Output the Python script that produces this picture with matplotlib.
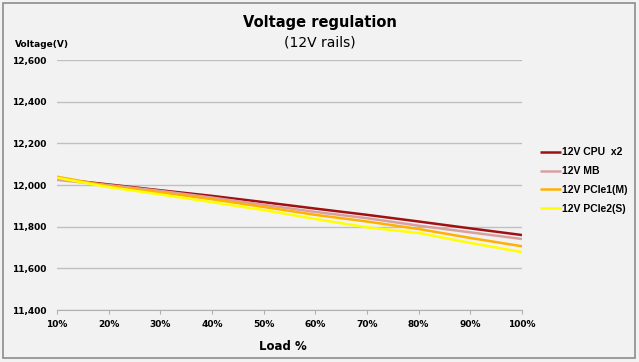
import matplotlib.pyplot as plt
from matplotlib.patches import Rectangle

# data
loads = ['10%', '20%', '30%', '40%', '50%', '60%', '70%', '80%', '90%', '100%']
cpu = [12030, 12003, 11975, 11948, 11918, 11887, 11857, 11825, 11792, 11760]
mb = [12025, 12000, 11972, 11940, 11905, 11871, 11841, 11805, 11773, 11741]
pcie1 = [12040, 11995, 11965, 11932, 11895, 11857, 11825, 11789, 11746, 11706]
pcie2 = [12035, 11990, 11955, 11918, 11880, 11837, 11797, 11770, 11722, 11678]
series_names = ['12V CPU  x2', '12V MB', '12V PCIe1(M)', '12V PCIe2(S)']
colors = ['#a01010', '#d9a0a0', '#ffb000', '#ffff00']
y_ticks = [11400, 11600, 11800, 12000, 12200, 12400, 12600]

bg = '#f2f2f2'
fig = plt.figure(figsize=(6.39, 3.62), dpi=100, facecolor=bg)
fig.patches.append(Rectangle((0.004, 0.012), 0.99, 0.98, transform=fig.transFigure,
                             fill=False, edgecolor='#8c8c8c', linewidth=1.2))

ax = fig.add_axes([0.0892, 0.1436, 0.7277, 0.6904])
ax.set_facecolor(bg)

x = list(range(len(loads)))
for vals, name, c in zip([cpu, mb, pcie1, pcie2], series_names, colors):
    ax.plot(x, vals, color=c, lw=1.8, label=name, solid_capstyle='butt')

ax.set_xlim(0, len(loads) - 1)
ax.set_ylim(11400, 12600)
ax.set_xticks(x)
ax.set_xticklabels(loads)
ax.set_yticks(y_ticks)
ax.set_yticklabels([f'{v:,}' for v in y_ticks])
ax.grid(axis='y', color='#c0c0c0', lw=1)
ax.set_axisbelow(True)
for s in ['top', 'right', 'left']:
    ax.spines[s].set_visible(False)
ax.spines['bottom'].set_color('#b0b0b0')
ax.tick_params(axis='y', length=0, pad=7.5, labelsize=6.5)
ax.tick_params(axis='x', length=3, color='#b0b0b0', pad=4, labelsize=6.5)
for lab in ax.get_xticklabels() + ax.get_yticklabels():
    lab.set_fontweight('bold')

fig.text(0.5, 0.937, 'Voltage regulation', ha='center', va='center',
         fontsize=10.5, fontweight='bold')
fig.text(0.5, 0.883, '(12V rails)', ha='center', va='center', fontsize=10)
fig.text(0.024, 0.878, 'Voltage(V)', ha='left', va='center', fontsize=6.5, fontweight='bold')
fig.text(0.443, 0.044, 'Load %', ha='center', va='center', fontsize=8.5, fontweight='bold')

leg = ax.legend(loc='upper left', bbox_to_anchor=(0.83, 0.619), bbox_transform=fig.transFigure,
                frameon=False, handlelength=2.0, handletextpad=0.15, labelspacing=0.85,
                prop={'family': 'Liberation Sans', 'weight': 'bold', 'size': 7.5})

fig.savefig('out.png', dpi=100, facecolor=bg)
